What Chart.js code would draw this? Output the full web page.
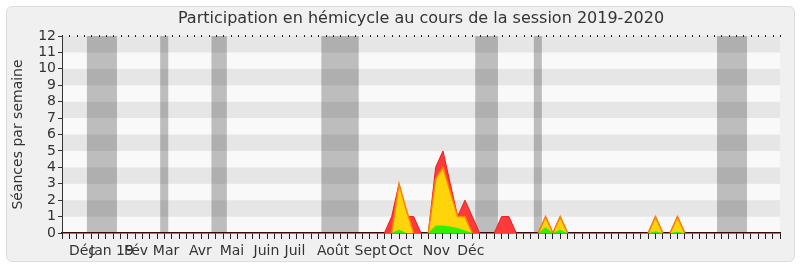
<!DOCTYPE html>
<html>
<head>
<meta charset="utf-8">
<script src="https://cdn.jsdelivr.net/npm/chart.js@4/dist/chart.umd.min.js"></script>
<style>
  html, body { margin: 0; padding: 0; background: #fff; }
  #wrap { position: relative; width: 800px; height: 267px; }
  #frame { position: absolute; left: 6px; top: 6px; width: 787px; height: 254px; background: #f0f0f0; border: 1px solid #dcdcdc; border-radius: 6px; }
  canvas { position: absolute; left: 0; top: 0; }
</style>
</head>
<body>
<div id="wrap"><div id="frame"></div><canvas id="chart" width="800" height="267"></canvas></div>
<script>
// Semaines (0 = début de l'axe) et valeurs
const redWeeks = [0, 44, 45, 46, 47, 48, 49, 50, 51, 52, 53, 54, 55, 56, 57, 59, 60, 61, 62, 65, 66, 67, 68, 69, 80, 81, 82, 83, 84, 85, 98];
const redVals  = [0, 0, 1, 3, 1, 1, 0, 0, 4, 5, 3, 1, 2, 1, 0, 0, 1, 1, 0, 0, 1, 0, 1, 0, 0, 1, 0, 0, 1, 0, 0];

const yellowWeeks = [0, 45, 46, 47, 48, 50, 51, 52, 53, 54, 55, 56, 65, 66, 67, 68, 69, 80, 81, 82, 83, 84, 85, 98];
const yellowVals  = [0, 0, 3, 1.4, 0, 0, 3.3, 4, 2.5, 1, 1, 0, 0, 1, 0, 1, 0, 0, 1, 0, 0, 1, 0, 0];

const greenWeeks = [0, 45, 46, 47, 50, 51, 52, 53, 54, 55, 56, 65, 66, 67, 68, 69, 80, 81, 82, 83, 84, 85, 98];
const greenVals  = [0, 0, 0.22, 0, 0, 0.45, 0.45, 0.4, 0.3, 0.15, 0, 0, 0.35, 0, 0.22, 0, 0, 0.1, 0, 0, 0.08, 0, 0];

// Vacances parlementaires (bandes grises)
const vacStart = [3.4, 13.4, 20.4, 35.4, 56.4, 64.4, 89.4];
const vacEnd   = [7.5, 14.5, 22.5, 40.5, 59.5, 65.5, 93.5];

// Axes
const monthLabels = ["Déc", "Jan", "19", "Fév", "Mar", "Avr", "Mai", "Juin", "Juil", "Août", "Sept", "Oct", "Nov", "Déc"];
const monthPos    = [2.8, 5.3, 8.6, 10.1, 14.2, 18.9, 23.2, 27.9, 31.8, 37.0, 42.1, 46.2, 51.1, 55.8];
const weekTicks = Array.from({ length: 99 }, (_, i) => i);
const yTicks = [0, 1, 2, 3, 4, 5, 6, 7, 8, 9, 10, 11, 12];

const FONT = "DejaVu Sans";
Chart.defaults.font.family = FONT;

function pts(weeks, vals) {
  return weeks.map((w, i) => ({ x: w, y: vals[i] }));
}

// pas de trait le long de zéro
const hideZero = c => (c.p0.parsed.y === 0 && c.p1.parsed.y === 0) ? "rgba(0,0,0,0)" : undefined;

// Fond : bandes horizontales, vacances, pointillés du haut
const backdrop = {
  id: "backdrop",
  beforeDraw(chart) {
    const { ctx, chartArea: a, scales: { x, y } } = chart;
    ctx.save();
    for (let v = 0; v < 12; v++) {
      ctx.fillStyle = v % 2 ? "#e6e6e6" : "#f9f9f9";
      const t = y.getPixelForValue(v + 1), b = y.getPixelForValue(v);
      ctx.fillRect(a.left, t, a.right - a.left, b - t);
    }
    ctx.fillStyle = "rgba(0,0,0,0.24)";
    vacStart.forEach((s, i) => {
      const x0 = x.getPixelForValue(s), x1 = x.getPixelForValue(vacEnd[i]);
      ctx.fillRect(x0, a.top, x1 - x0, a.bottom - a.top);
    });
    ctx.fillStyle = "#222";
    weekTicks.forEach(w => ctx.fillRect(Math.round(x.getPixelForValue(w)), Math.round(a.top) - 1, 1, 2));
    ctx.restore();
  }
};

new Chart(document.getElementById("chart"), {
  type: "line",
  data: {
    datasets: [
      {
        data: pts(greenWeeks, greenVals),
        backgroundColor: "#33f000",
        borderWidth: 0,
        fill: "origin",
        order: 1
      },
      {
        data: pts(yellowWeeks, yellowVals),
        backgroundColor: "#ffd40a",
        borderColor: "#ff8000",
        borderWidth: 1.5,
        segment: { borderColor: hideZero },
        fill: "origin",
        order: 2
      },
      {
        data: pts(redWeeks, redVals),
        backgroundColor: "#ff3a3a",
        borderColor: "#ee1c1c",
        borderWidth: 1,
        segment: { borderColor: hideZero },
        fill: "origin",
        order: 3
      }
    ]
  },
  options: {
    responsive: false,
    animation: false,
    elements: { point: { radius: 0 }, line: { tension: 0 } },
    layout: { padding: { left: 0, right: 20, top: 0, bottom: 0 } },
    plugins: {
      legend: { display: false },
      tooltip: { enabled: false },
      title: {
        display: true,
        fullSize: false,
        text: "Participation en hémicycle au cours de la session 2019-2020",
        color: "#333",
        font: { family: FONT, size: 16, weight: "normal", lineHeight: 1.25 },
        padding: { top: 9, bottom: 7 }
      }
    },
    scales: {
      x: {
        type: "linear", min: 0, max: 98, position: "bottom", weight: 0,
        afterBuildTicks: s => { s.ticks = weekTicks.map(v => ({ value: v })); },
        afterFit: s => { s.height = 2; },
        ticks: { display: false },
        grid: { drawOnChartArea: false, drawTicks: true, tickLength: 6, color: "#222" },
        border: { display: true, color: "#3a0a0a", width: 1.5 }
      },
      xm: {
        type: "linear", min: 0, max: 98, position: "bottom", weight: 1,
        afterBuildTicks: s => { s.ticks = monthPos.map(v => ({ value: v })); },
        afterFit: s => { s.height = 32; },
        ticks: {
          autoSkip: false, maxRotation: 0, padding: 0, color: "#333",
          font: { family: FONT, size: 14 },
          callback: (v, i) => monthLabels[i]
        },
        grid: { display: false },
        border: { display: false }
      },
      y: {
        min: 0, max: 12,
        afterBuildTicks: s => { s.ticks = yTicks.map(v => ({ value: v })); },
        afterFit: s => { s.width = 62; },
        ticks: { autoSkip: false, color: "#333", font: { family: FONT, size: 14 }, padding: 2 },
        grid: { drawOnChartArea: false, tickLength: 4, color: "#333" },
        border: { color: "#333" },
        title: {
          display: true, text: "Séances par semaine", color: "#333",
          font: { family: FONT, size: 14 },
          padding: { top: 10, bottom: 0 }
        }
      }
    }
  },
  plugins: [backdrop]
});
</script>
</body>
</html>
